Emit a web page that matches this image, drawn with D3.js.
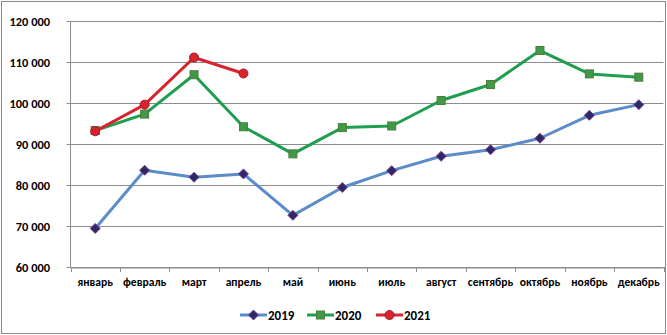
<!DOCTYPE html>
<html><head><meta charset="utf-8">
<script src="https://cdn.jsdelivr.net/npm/d3@7"></script>
<style>
html,body{margin:0;padding:0;background:#fff;}
svg{display:block;font-family:Calibri,"Liberation Sans",Arial,sans-serif;}
</style></head>
<body>
<svg id="chart" width="667" height="335"></svg>
<script>
const months = ["январь","февраль","март","апрель","май","июнь","июль","август","сентябрь","октябрь","ноябрь","декабрь"];
const values2019 = [69400,83600,81900,82700,72600,79400,83500,87000,88600,91400,97000,99600];
const values2020 = [93300,97300,106900,94200,87600,94000,94400,100600,104500,112800,107100,106300];
const values2021 = [93100,99600,111100,107200];
const yTicks = [60000,70000,80000,90000,100000,110000,120000];
const seriesNames = ["2019","2020","2021"];

const series = [
  {name:seriesNames[0], values:values2019, line:"#5b8bc9", fill:"#2e2866", stroke:"#7b3f8c", shape:"diamond"},
  {name:seriesNames[1], values:values2020, line:"#1e9e4e", fill:"#3f9a48", stroke:"#4e7a3a", shape:"square"},
  {name:seriesNames[2], values:values2021, line:"#d9232c", fill:"#d9232c", stroke:"#a51b2a", shape:"circle"}
];

const svg = d3.select("#chart");
svg.append("rect").attr("x",1.5).attr("y",1.5).attr("width",664).attr("height",332)
  .attr("fill","#fff").attr("stroke","#8a8a8a").attr("stroke-width",1);

const pLeft = 70.5, pRight = 663.5, pTop = 21, pBottom = 267;
const x = d3.scaleBand().domain(months).range([pLeft,pRight]).padding(0);
const y = d3.scaleLinear().domain([60000,120000]).range([pBottom,pTop]);

const fmt = v => d3.format(",")(v).replace(/,/g," ");

// gridlines
svg.append("g").selectAll("line").data(yTicks).join("line")
  .attr("x1",pLeft-4).attr("x2",pRight)
  .attr("y1",d=>Math.round(y(d))+0.5).attr("y2",d=>Math.round(y(d))+0.5)
  .attr("stroke","#8c8c8c").attr("stroke-width",1);

// y axis line
svg.append("line").attr("x1",pLeft).attr("x2",pLeft).attr("y1",pTop).attr("y2",pBottom)
  .attr("stroke","#8c8c8c");

// y labels
svg.append("g").selectAll("text").data(yTicks).join("text")
  .attr("x",50).attr("y",d=>y(d)+4.5)
  .attr("text-anchor","end").attr("font-size","12.4px").attr("font-weight","bold")
  .attr("fill","#000").text(fmt);

// x axis
const xAxis = d3.axisBottom(x).tickSize(0).tickFormat(d=>d);
const gx = svg.append("g").attr("transform",`translate(0,${pBottom+0.5})`).call(xAxis);
gx.select(".domain").attr("stroke","#8c8c8c");
gx.selectAll("text").attr("font-size","11.6px").attr("font-weight","bold")
  .attr("font-family",'Calibri,"Liberation Sans",Arial,sans-serif')
  .attr("fill","#000").attr("dy",0).attr("y",18.5);
// category boundary ticks
const bounds = months.map(m=>x(m)).concat([pRight]);
svg.append("g").selectAll("line").data(bounds).join("line")
  .attr("x1",d=>Math.round(d)+0.5).attr("x2",d=>Math.round(d)+0.5)
  .attr("y1",pBottom).attr("y2",pBottom+5).attr("stroke","#8c8c8c");

const cx = i => x(months[i]) + x.bandwidth()/2;

function marker(g, shape, px, py){
  if(shape==="diamond"){
    g.append("path").attr("d",`M${px},${py-5}L${px+5},${py}L${px},${py+5}L${px-5},${py}Z`);
  } else if(shape==="square"){
    g.append("rect").attr("x",px-4).attr("y",py-4).attr("width",8).attr("height",8);
  } else {
    g.append("circle").attr("cx",px).attr("cy",py).attr("r",4.5);
  }
}

const line = d3.line().x((d,i)=>cx(i)).y(d=>y(d));
series.forEach(s=>{
  svg.append("path").datum(s.values).attr("d",line)
    .attr("fill","none").attr("stroke",s.line).attr("stroke-width",3)
    .attr("stroke-linejoin","round");
  const g = svg.append("g").attr("fill",s.fill).attr("stroke",s.stroke).attr("stroke-width",1);
  s.values.forEach((v,i)=>marker(g,s.shape,cx(i),y(v)));
});

// legend
const legendX = [240,307,376];
const ly = 315;
series.forEach((s,i)=>{
  const lx = legendX[i];
  svg.append("line").attr("x1",lx).attr("x2",lx+27).attr("y1",ly).attr("y2",ly)
    .attr("stroke",s.line).attr("stroke-width",3);
  const g = svg.append("g").attr("fill",s.fill).attr("stroke",s.stroke).attr("stroke-width",1);
  marker(g,s.shape,lx+13.5,ly);
  svg.append("text").attr("x",lx+28).attr("y",ly+4.5)
    .attr("font-size","13px").attr("font-weight","bold").attr("fill","#000").text(s.name);
});
</script>
</body></html>
